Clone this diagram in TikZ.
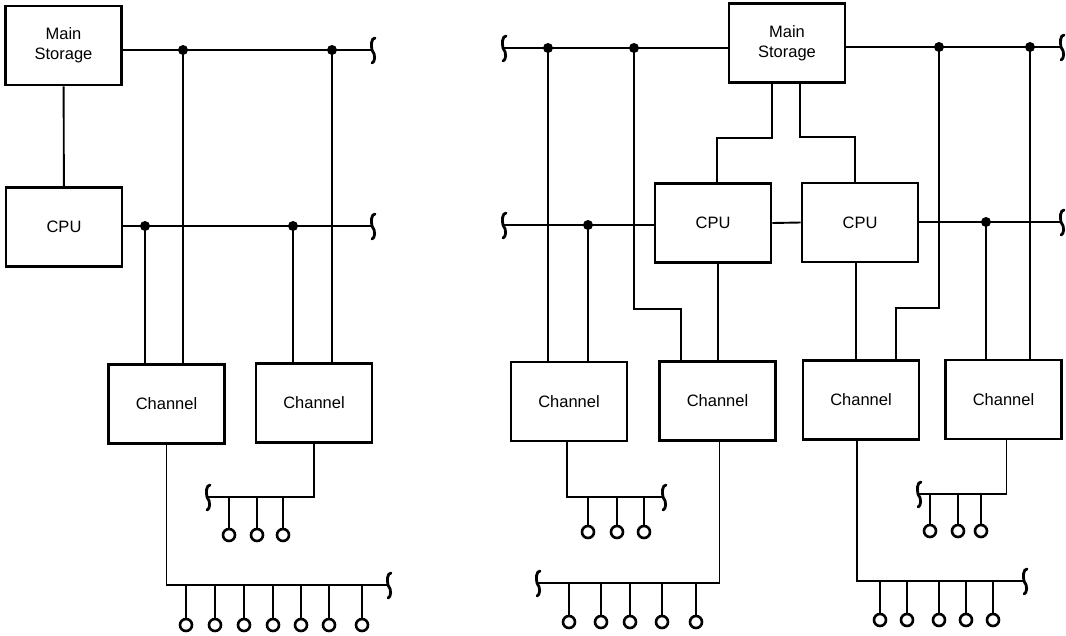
\documentclass[tikz,border=0pt]{standalone}
\usepackage{fontspec}
\setmainfont{Liberation Sans}
% wavy break drawn at the open end of a bus
\newcommand{\busbreak}[1]{%
  \draw[brkline] ([shift={(3,-12)}]#1) .. controls ([shift={(-1,-12)}]#1) and ([shift={(-1,-4)}]#1) .. (#1)
    .. controls ([shift={(4,5)}]#1) and ([shift={(3,12)}]#1) .. ([shift={(0,13)}]#1);}
\begin{document}
\begin{tikzpicture}[x=1pt, y=-1pt,
    unit/.style={draw, line width=2.8pt, inner sep=0pt, minimum width=116pt,
      minimum height=79pt, align=center, font=\fontsize{16.5}{20}\selectfont},
    wire/.style={line width=1.9pt},
    tap/.style={circle, fill, inner sep=0pt, minimum size=10pt},
    dev/.style={circle, draw, line width=2.6pt, inner sep=0pt, minimum size=12pt},
    brkline/.style={line width=2.8pt, line cap=round}
  ]
  \useasboundingbox (0,0) rectangle (1066,635);

  % single processor system
  \node[unit] (ms1) at (63.5,45.5) {Main\\Storage};
  \node[unit] (cpu1) at (64,227) {CPU};
  \node[unit] (ch1) at (166.5,404) {Channel};
  \node[unit] (ch2) at (314,403) {Channel};
  \coordinate (mbL) at (372,50);
  \coordinate (cbL) at (372,226);
  \node[tap] (t1) at (183,50) {};
  \node[tap] (t2) at (332,50) {};
  \node[tap] (t3) at (145,226) {};
  \node[tap] (t4) at (293,226) {};
  \draw[wire] (ms1) -- (cpu1);
  \draw[wire] (ms1.east |- mbL) -- (mbL);
  \draw[wire] (cpu1.east |- cbL) -- (cbL);
  \foreach \t/\c in {t1/ch1, t3/ch1, t2/ch2, t4/ch2}
    \draw[wire] (\t.center) -- (\t |- \c.north);
  \coordinate (b1e) at (388,585);
  \coordinate (b2e) at (207,497);
  \draw[wire] (ch1.south) |- (b1e);
  \draw[wire] (ch2.south) |- (b2e);
  \foreach \x in {186,215,244,273,301,329,362} {
    \node[dev] (da\x) at (\x,625) {};
    \draw[wire] (da\x) -- (da\x |- b1e);
  }
  \foreach \x in {229,257,283} {
    \node[dev] (db\x) at (\x,535) {};
    \draw[wire] (db\x) -- (db\x |- b2e);
  }
  \foreach \e in {mbL, cbL, b1e, b2e} {
    \busbreak{\e}
  }

  % dual processor system
  \node[unit] (ms2) at (787,43) {Main\\Storage};
  \node[unit] (cpu2) at (713,223) {CPU};
  \node[unit] (cpu3) at (860,222.5) {CPU};
  \node[unit] (ch3) at (569,401.5) {Channel};
  \node[unit] (ch4) at (717.5,401) {Channel};
  \node[unit] (ch5) at (861,400) {Channel};
  \node[unit] (ch6) at (1003.5,399.5) {Channel};
  \coordinate (mbA) at (503,48);
  \coordinate (mbB) at (1061,47);
  \coordinate (cbA) at (503,225);
  \coordinate (cbB) at (1061,222);
  \node[tap] (t5) at (548,48) {};
  \node[tap] (t6) at (634,48) {};
  \node[tap] (t7) at (588,225) {};
  \node[tap] (t8) at (939,47) {};
  \node[tap] (t9) at (1030,47) {};
  \node[tap] (t10) at (986,222) {};
  \draw[wire] (mbA) -- (mbA -| ms2.west);
  \draw[wire] (ms2.east |- mbB) -- (mbB);
  \draw[wire] (cbA) -- (cbA -| cpu2.west);
  \draw[wire] (cpu2.east) -- (cpu3.west);
  \draw[wire] (cpu3.east |- cbB) -- (cbB);
  \draw[wire] ([xshift=-15pt]ms2.south) -- ++(0,54) -| ([xshift=4pt]cpu2.north);
  \draw[wire] ([xshift=13pt]ms2.south) -- ++(0,53) -| ([xshift=-5pt]cpu3.north);
  \foreach \t/\c in {t5/ch3, t7/ch3, t10/ch6, t9/ch6}
    \draw[wire] (\t.center) -- (\t |- \c.north);
  \draw[wire] ([xshift=5pt]cpu2.south) -- ([xshift=5pt]cpu2.south |- ch4.north);
  \draw[wire] ([xshift=-4pt]cpu3.south) -- ([xshift=-4pt]cpu3.south |- ch5.north);
  \draw[wire] (t6.center) -- ++(0,261) -| ([xshift=-36.5pt]ch4.north);
  \draw[wire] (t8.center) -- ++(0,261) -| ([xshift=35pt]ch5.north);
  \coordinate (b3e) at (663,497);
  \coordinate (b4e) at (537,583);
  \coordinate (b5e) at (1024,581);
  \coordinate (b6e) at (918,494);
  \draw[wire] ([xshift=-2pt]ch3.south) |- (b3e);
  \draw[wire] ([xshift=2pt]ch4.south) |- (b4e);
  \draw[wire] ([xshift=-4pt]ch5.south) |- (b5e);
  \draw[wire] ([xshift=3pt]ch6.south) |- (b6e);
  \foreach \x in {588,617,644} {
    \node[dev] (dc\x) at (\x,532) {};
    \draw[wire] (dc\x) -- (dc\x |- b3e);
  }
  \foreach \x in {569,601,630,662,696} {
    \node[dev] (dd\x) at (\x,622) {};
    \draw[wire] (dd\x) -- (dd\x |- b4e);
  }
  \foreach \x in {880,907,939,966,993} {
    \node[dev] (de\x) at (\x,620) {};
    \draw[wire] (de\x) -- (de\x |- b5e);
  }
  \foreach \x in {930,958,981} {
    \node[dev] (df\x) at (\x,531) {};
    \draw[wire] (df\x) -- (df\x |- b6e);
  }
  \foreach \e in {mbA, mbB, cbA, cbB, b3e, b4e, b5e, b6e} {
    \busbreak{\e}
  }
\end{tikzpicture}
\end{document}
